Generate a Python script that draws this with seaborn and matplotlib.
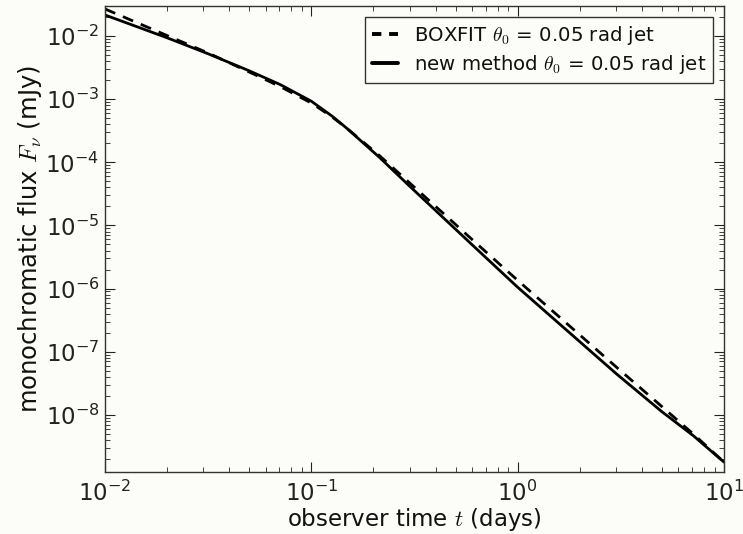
import numpy as np
import pandas as pd
import matplotlib
matplotlib.use("Agg")
import matplotlib.pyplot as plt
from matplotlib.lines import Line2D
import seaborn as sns

# observer time (days)
t_new = [0.01, 0.02, 0.0316, 0.05, 0.0708, 0.1, 0.126, 0.148, 0.215, 0.3, 0.631, 1.0, 3.0, 5.0, 7.08, 10.0]
# new method flux (mJy)
f_new = [2.16e-2, 9.4e-3, 5.25e-3, 2.82e-3, 1.70e-3, 9.3e-4, 5.4e-4, 3.5e-4, 1.18e-4, 4.17e-5,
         4.27e-6, 1.05e-6, 4.5e-8, 1.12e-8, 4.7e-9, 1.78e-9]
t_box = [0.01, 0.02, 0.0316, 0.05, 0.0708, 0.1, 0.126, 0.148, 0.215, 0.3, 0.631, 1.0, 3.0, 5.0, 7.08, 10.0]
# BOXFIT flux (mJy)
f_box = [2.69e-2, 1.02e-2, 5.4e-3, 2.7e-3, 1.58e-3, 8.7e-4, 5.25e-4, 3.5e-4, 1.26e-4, 4.7e-5,
         5.2e-6, 1.35e-6, 5.75e-8, 1.35e-8, 5.0e-9, 1.78e-9]

lab_box = r"BOXFIT $\theta_0$ = 0.05 rad jet"
lab_new = r"new method $\theta_0$ = 0.05 rad jet"

sns.set_style("ticks")
plt.rcParams.update({
    "font.family": ["DejaVu Sans"],
    "mathtext.fontset": "cm",
    "axes.unicode_minus": False,
    "text.color": "#111111",
    "axes.labelcolor": "#111111",
    "xtick.color": "#222222",
    "ytick.color": "#222222",
})

bg = "#fcfdf8"
fig = plt.figure(figsize=(7.43, 5.34), dpi=100, facecolor=bg)
ax = fig.add_axes([0.1413, 0.1161, 0.9744 - 0.1413, 0.9888 - 0.1161])
ax.set_facecolor(bg)

df_box = pd.DataFrame({"t": t_box, "f": f_box})
df_new = pd.DataFrame({"t": t_new, "f": f_new})

sns.lineplot(data=df_box, x="t", y="f", ax=ax, color="black", lw=2.0, sort=False)
ax.lines[-1].set_dashes([4, 3])
sns.lineplot(data=df_new, x="t", y="f", ax=ax, color="black", lw=2.0, sort=False)

ax.set_xscale("log")
ax.set_yscale("log")
ax.set_xlim(1e-2, 1e1)
ax.set_ylim(1.24e-9, 3.0e-2)

ax.set_xlabel(r"observer time $t$ (days)", fontsize=16.5, labelpad=0)
ax.set_ylabel(r"monochromatic flux $F_\nu$ (mJy)", fontsize=17.5, labelpad=1)

ax.tick_params(which="both", direction="in", top=True, right=True)
ax.tick_params(which="major", length=7, width=0.8, labelsize=16.5)
ax.tick_params(axis="y", which="major", pad=4)
ax.tick_params(axis="x", which="major", pad=6)
ax.tick_params(which="minor", length=3.5, width=0.6)
ax.yaxis.set_minor_locator(matplotlib.ticker.LogLocator(base=10, subs=np.arange(2, 10), numticks=30))
ax.yaxis.set_major_locator(matplotlib.ticker.LogLocator(base=10, numticks=30))
ax.yaxis.set_minor_formatter(matplotlib.ticker.NullFormatter())
for s in ax.spines.values():
    s.set_color("#333333")
    s.set_linewidth(1.0)

handles = [Line2D([], [], color="black", lw=2.8, dashes=[2.4, 2.0]),
           Line2D([], [], color="black", lw=2.8)]
leg = ax.legend(handles, [lab_box, lab_new], loc="upper right", fontsize=14.2, frameon=True,
                fancybox=False, edgecolor="#333333", facecolor=bg, framealpha=1,
                handlelength=1.32, borderaxespad=0.55, labelspacing=0.3, borderpad=0.35)
leg.get_frame().set_linewidth(1.0)

fig.savefig("out.png", dpi=100, facecolor=bg)
